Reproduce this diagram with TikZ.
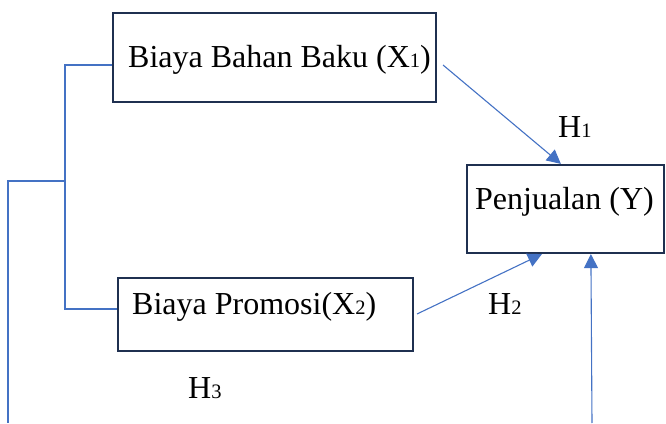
\documentclass[tikz,border=0pt]{standalone}
\usepackage{fontspec}
\setmainfont{Liberation Serif}
\usetikzlibrary{arrows.meta,calc}
\definecolor{navy}{HTML}{1F3050}
\definecolor{lblue}{HTML}{4472C4}
\newcommand{\sm}[1]{{\fontsize{20.5}{20.5}\selectfont #1}}
\tikzset{
  x=1pt,y=1pt,
  box/.style={draw=navy,line width=2.2pt,rectangle,inner sep=0pt},
  txt/.style={anchor=base west,inner sep=0pt,font=\fontsize{32}{32}\selectfont},
  conn/.style={draw=lblue,line width=1.1pt},
  arr/.style={conn,-{Triangle[length=14pt,width=14pt]}},
}
\begin{document}
\begin{tikzpicture}
\useasboundingbox (0,0) rectangle (666,423);
% boxes
\node[box,minimum width=323pt,minimum height=89pt] (b1) at (274.5,365.5) {};
\node[box,minimum width=295pt,minimum height=73pt] (b2) at (265.5,108.5) {};
\node[box,minimum width=197pt,minimum height=88pt] (b3) at (565.5,214) {};
% texts
\node[txt] (t1) at (128,355) {Biaya Bahan Baku (X\sm{1})};
\node[txt] (t2) at (132,108) {Biaya Promosi(X\sm{2})};
\node[txt] (t3) at (475,213) {Penjualan (Y)};
\node[txt] (h1) at (558,285) {H\sm{1}};
\node[txt] (h2) at (488,108) {H\sm{2}};
\node[txt] (h3) at (188,25) {H\sm{3}};
% connector coordinates
\coordinate (a1s) at (443,358);
\coordinate (a1e) at ($(b3.north west)+(95,0)$);
\coordinate (a2s) at (417,109);
\coordinate (a2e) at ($(b3.south west)+(76,0)$);
\coordinate (a3s) at (592,0);
\coordinate (a3e) at ($(b3.south west)+(125,0)$);
\coordinate (k1) at (65,358);
\coordinate (k2) at (65,114);
\coordinate (k3) at (65,242);
\coordinate (k4) at (8,242);
\coordinate (k5) at (8,0);
% arrows
\draw[arr] (a1s) -- (a1e);
\draw[arr] (a2s) -- (a2e);
\draw[arr] (a3s) -- (a3e);
% bracket
\draw[conn] (b1.west |- k1) -- (k1) -- (k2) -- (b2.west |- k2);
\draw[conn] (k3) -- (k4) -- (k5);
\end{tikzpicture}
\end{document}
